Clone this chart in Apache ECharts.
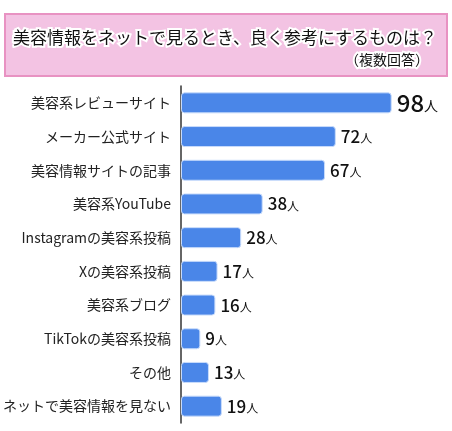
<!DOCTYPE html>
<html>
<head>
<meta charset="utf-8">
<script src="https://cdn.jsdelivr.net/npm/echarts@6/dist/echarts.min.js"></script>
<style>
  html, body { margin: 0; padding: 0; background: #fff; }
  #chart { width: 452px; height: 431px; }
</style>
</head>
<body>
<div id="chart"></div>
<script>
// カテゴリと回答数
var categories = [
    '美容系レビューサイト',
    'メーカー公式サイト',
    '美容情報サイトの記事',
    '美容系YouTube',
    'Instagramの美容系投稿',
    'Xの美容系投稿',
    '美容系ブログ',
    'TikTokの美容系投稿',
    'その他',
    'ネットで美容情報を見ない'
];
var counts = [98, 72, 67, 38, 28, 17, 16, 9, 13, 19];
var unit = '人';

var titleText = '美容情報をネットで見るとき、良く参考にするものは？';
var subText = '（複数回答）';

var font = '"Noto Sans CJK JP", "Noto Sans", sans-serif';

var chart = echarts.init(document.getElementById('chart'));

var barData = counts.map(function (v, i) {
    return {
        value: v,
        label: {
            formatter: i === 0 ? '{big|' + v + '}{bu|' + unit + '}' : '{n|' + v + '}{u|' + unit + '}'
        }
    };
});

chart.setOption({
    backgroundColor: '#fff',
    animation: false,
    graphic: [
        {
            type: 'rect',
            shape: { x: 5, y: 14, width: 442, height: 62 },
            style: { fill: '#f3c3e3', stroke: '#e892c2', lineWidth: 2 }
        },
        {
            type: 'text',
            x: 225, y: 38,
            style: {
                text: titleText,
                font: '400 17px ' + font,
                fill: '#111',
                stroke: '#fff',
                lineWidth: 4,
                align: 'center',
                verticalAlign: 'middle'
            }
        },
        {
            type: 'text',
            x: 429, y: 60,
            style: {
                text: subText,
                font: '400 14px ' + font,
                fill: '#111',
                stroke: '#fff',
                lineWidth: 4,
                align: 'right',
                verticalAlign: 'middle'
            }
        }
    ],
    grid: { left: 176, top: 86, width: 220, height: 337 },
    xAxis: {
        type: 'value',
        min: 0,
        max: 100,
        show: false
    },
    yAxis: {
        type: 'category',
        data: categories,
        inverse: true,
        axisLine: { show: true, lineStyle: { color: '#333', width: 1.5 } },
        axisTick: { show: false },
        axisLabel: {
            margin: 10,
            color: '#222',
            fontSize: 14,
            fontFamily: font
        }
    },
    series: [{
        type: 'bar',
        data: barData,
        barWidth: 21,
        itemStyle: {
            color: '#4a86e8',
            borderColor: '#c9dcfb',
            borderWidth: 1,
            borderRadius: 3
        },
        label: {
            show: true,
            position: 'right',
            distance: 5,
            color: '#111',
            fontFamily: font,
            rich: {
                big: { fontSize: 24, fontWeight: 500, fontFamily: font, color: '#111' },
                bu: { fontSize: 14, fontFamily: font, color: '#111', padding: [6, 0, 0, 0] },
                n: { fontSize: 17, fontWeight: 500, fontFamily: font, color: '#111' },
                u: { fontSize: 12, fontFamily: font, color: '#111', padding: [4, 0, 0, 0] }
            }
        }
    }]
});
</script>
</body>
</html>
